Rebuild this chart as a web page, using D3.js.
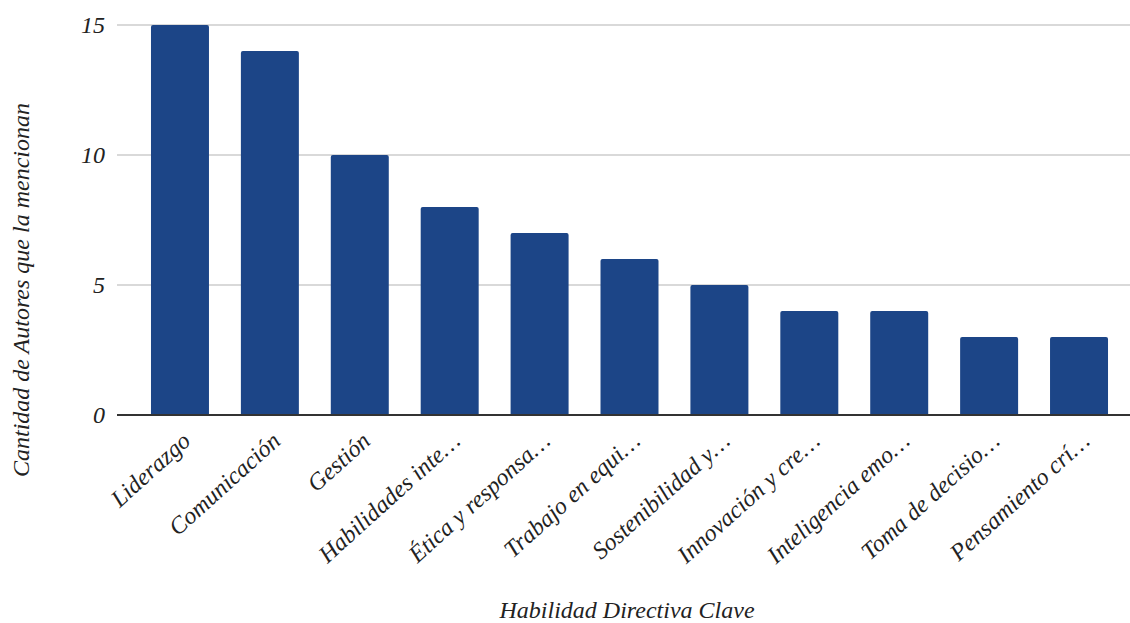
<!DOCTYPE html>
<html><head><meta charset="utf-8">
<style>body{margin:0;background:#fff}svg{display:block}
svg text{font-family:"Times New Roman",Times,"Liberation Serif",serif !important;font-style:italic}</style>
<script src="https://cdn.jsdelivr.net/npm/d3@7"></script>
</head><body>
<svg id="c" width="1130" height="623"></svg>
<script>
const categories = ["Liderazgo","Comunicación","Gestión","Habilidades inte…","Ética y responsa…","Trabajo en equi…","Sostenibilidad y…","Innovación y cre…","Inteligencia emo…","Toma de decisio…","Pensamiento crí…"];
const values = [15,14,10,8,7,6,5,4,4,3,3];
const yTicks = [0,5,10,15];
const xTitle = "Habilidad Directiva Clave";
const yTitle = "Cantidad de Autores que la mencionan";

(function () {
const svg = d3.select("#c");
const FONT = "'Times New Roman', Times, 'Liberation Serif', serif";
const mLeft = 117, mRight = 1142, mTop = 25, mBottom = 415;
const x = d3.scaleBand().domain(categories).range([mLeft, mRight]).paddingInner(0.355).paddingOuter(0.378);
const y = d3.scaleLinear().domain([0, 15]).range([mBottom, mTop]);

const txt = sel => sel.style("font-family", FONT).style("font-style", "italic").attr("fill", "#222");

svg.append("g").selectAll("line").data(yTicks.filter(d => d > 0)).join("line")
  .attr("x1", mLeft).attr("x2", mRight).attr("y1", d => y(d)).attr("y2", d => y(d))
  .attr("stroke", "#cccccc").attr("stroke-width", 1.5);

svg.append("g").selectAll("text").data(yTicks).join("text").call(txt)
  .attr("x", 105).attr("y", d => y(d)).attr("dy", "0.33em")
  .attr("text-anchor", "end").attr("font-size", 24).text(d => d);

svg.append("g").selectAll("path").data(values).join("path")
  .attr("fill", "#1c4587")
  .attr("d", (d, i) => {
    const x0 = x(categories[i]), w = x.bandwidth(), y0 = y(d), r = 2;
    return `M${x0},${mBottom}V${y0 + r}Q${x0},${y0} ${x0 + r},${y0}H${x0 + w - r}Q${x0 + w},${y0} ${x0 + w},${y0 + r}V${mBottom}Z`;
  });

svg.append("line").attr("x1", mLeft).attr("x2", mRight).attr("y1", mBottom).attr("y2", mBottom)
  .attr("stroke", "#333").attr("stroke-width", 2);

svg.append("g").selectAll("text").data(categories).join("text").call(txt)
  .attr("text-anchor", "end").attr("font-size", 24)
  .attr("transform", d => `translate(${x(d) + x.bandwidth() / 2 + 12},${mBottom + 28}) rotate(-42)`)
  .text(d => d);

svg.append("text").call(txt).attr("x", 627).attr("y", 618).attr("text-anchor", "middle").attr("font-size", 24).text(xTitle);
svg.append("text").call(txt).attr("transform", `translate(29,290) rotate(-90)`).attr("text-anchor", "middle").attr("font-size", 24).text(yTitle);
})();
</script></body></html>
